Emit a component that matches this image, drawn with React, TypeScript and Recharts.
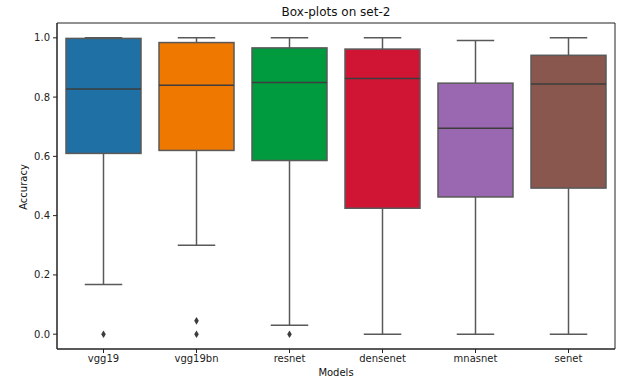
import { ComposedChart, Bar, Scatter, XAxis, YAxis, ReferenceArea } from 'recharts';

const models = ['vgg19', 'vgg19bn', 'resnet', 'densenet', 'mnasnet', 'senet'];
const whiskerLow = [0.168, 0.300, 0.030, 0.0, 0.0, 0.0];
const q1 = [0.610, 0.620, 0.586, 0.425, 0.463, 0.493];
const medians = [0.827, 0.840, 0.849, 0.863, 0.695, 0.844];
const q3 = [0.998, 0.984, 0.966, 0.962, 0.847, 0.941];
const whiskerHigh = [1.0, 1.0, 1.0, 1.0, 0.991, 1.0];
const outliersA = [0.0, 0.0, 0.0, null, null, null];
const outliersB = [null, 0.045, null, null, null, null];
const colors = ['#1f71a5', '#ee7800', '#009b3e', '#d01434', '#9a67b1', '#89574e'];
const yTicks = [0, 0.2, 0.4, 0.6, 0.8, 1.0];

const data = models.map((m, i) => ({
  model: m,
  lo: whiskerLow[i],
  q1: q1[i],
  med: medians[i],
  q3: q3[i],
  hi: whiskerHigh[i],
  o1: outliersA[i],
  o2: outliersB[i],
  color: colors[i],
}));

const lineColor = '#595959';

function BoxShape(props: any) {
  const { x, y, width, height, payload } = props;
  if (payload == null || height == null) return null;
  const unit = height / (payload.hi - payload.lo);
  const yOf = (v: number) => y + (payload.hi - v) * unit;
  const cx = x + width / 2;
  const cap = width / 2;
  return (
    <g>
      <line x1={cx} x2={cx} y1={yOf(payload.hi)} y2={yOf(payload.q3)} stroke={lineColor} strokeWidth={1.5} />
      <line x1={cx} x2={cx} y1={yOf(payload.q1)} y2={yOf(payload.lo)} stroke={lineColor} strokeWidth={1.5} />
      <line x1={cx - cap / 2} x2={cx + cap / 2} y1={yOf(payload.hi)} y2={yOf(payload.hi)} stroke={lineColor} strokeWidth={1.5} />
      <line x1={cx - cap / 2} x2={cx + cap / 2} y1={yOf(payload.lo)} y2={yOf(payload.lo)} stroke={lineColor} strokeWidth={1.5} />
      <rect x={x} y={yOf(payload.q3)} width={width} height={yOf(payload.q1) - yOf(payload.q3)} fill={payload.color} stroke={lineColor} strokeWidth={1.5} />
      <line x1={x} x2={x + width} y1={yOf(payload.med)} y2={yOf(payload.med)} stroke="#3d3d3d" strokeWidth={1.5} />
    </g>
  );
}

function Diamond(props: any) {
  const { cx, cy } = props;
  if (cx == null || cy == null || isNaN(cy)) return null;
  return <path d={`M${cx},${cy - 3.8} L${cx + 2.3},${cy} L${cx},${cy + 3.8} L${cx - 2.3},${cy} Z`} fill="#3d3d3d" />;
}

const font = 'DejaVu Sans, sans-serif';

export default function App() {
  return (
    <div style={{ position: 'absolute', left: 0, top: 0, width: 637, height: 390, background: '#fff', fontFamily: font }}>
      <ComposedChart width={637} height={390} data={data} margin={{ top: 23, right: 22, bottom: 0, left: 0 }}>
        <XAxis dataKey="model" height={41} tickSize={4} tickMargin={2} tick={{ fontSize: 10, fill: '#222', fontFamily: font }} stroke="#222" tickLine={{ stroke: '#222' }} />
        <YAxis type="number" domain={[-0.05, 1.05]} ticks={yTicks} width={57} tickSize={4} tickMargin={3}
          tickFormatter={(v: number) => v.toFixed(1)} tick={{ fontSize: 10, fill: '#222', fontFamily: font }} stroke="#222" allowDataOverflow />
        <Bar dataKey={(d: any) => [d.lo, d.hi]} barSize={75} shape={BoxShape} isAnimationActive={false} />
        <Scatter dataKey="o1" shape={Diamond} isAnimationActive={false} />
        <Scatter dataKey="o2" shape={Diamond} isAnimationActive={false} />
        <ReferenceArea y1={-0.05} y2={1.05} fill="none" stroke="#222" strokeWidth={1} ifOverflow="visible" />
      </ComposedChart>
      <div style={{ position: 'absolute', left: 57, width: 558, top: 5, textAlign: 'center', fontSize: 12, color: '#111' }}>Box-plots on set-2</div>
      <div style={{ position: 'absolute', left: 57, width: 558, top: 367, textAlign: 'center', fontSize: 10, color: '#111' }}>Models</div>
      <div style={{ position: 'absolute', left: 22.5, top: 187, transform: 'translate(-50%, -50%) rotate(-90deg)', fontSize: 10, color: '#111', whiteSpace: 'nowrap' }}>Accuracy</div>
    </div>
  );
}
